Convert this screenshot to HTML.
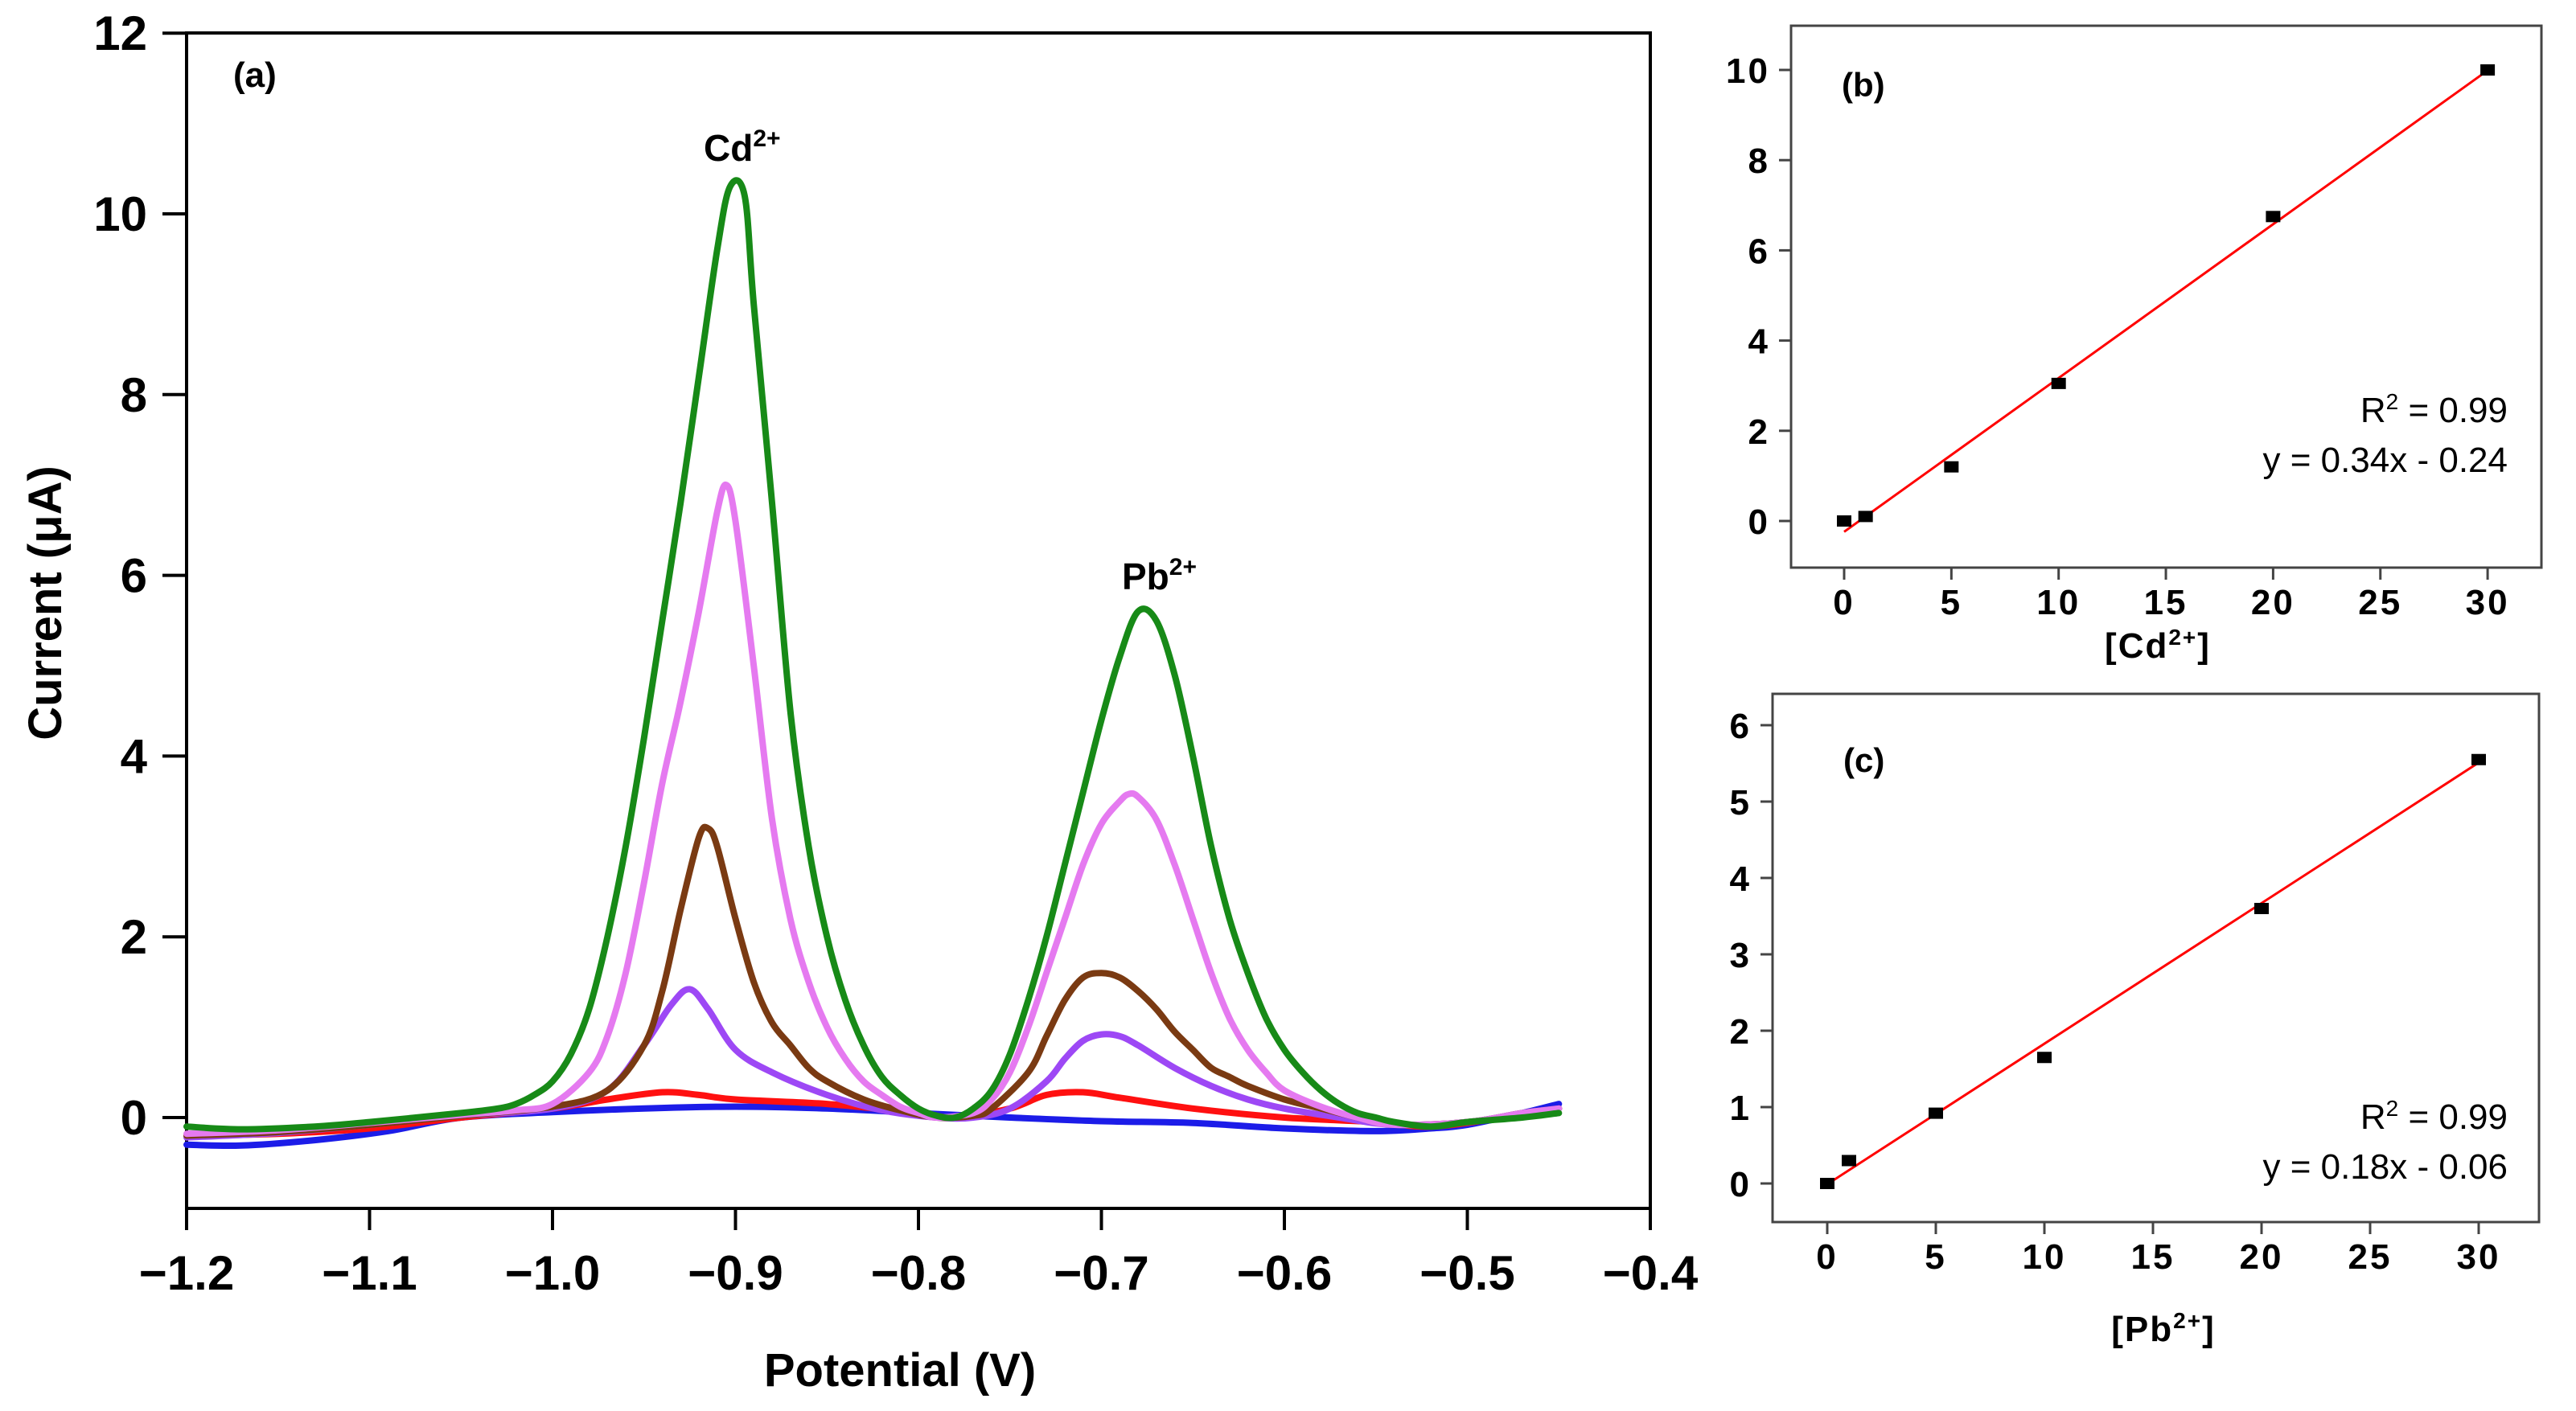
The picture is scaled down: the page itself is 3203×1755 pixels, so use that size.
<!DOCTYPE html>
<html><head><meta charset="utf-8"><style>
html,body{margin:0;padding:0;background:#fff;}
svg{display:block;font-family:"Liberation Sans",Arial,sans-serif;}
</style></head><body>
<svg id="fig" width="3203" height="1755" viewBox="0 0 3203 1755" xmlns="http://www.w3.org/2000/svg">
<rect width="3203" height="1755" fill="#fff"/>
<g id="pa"></g>
<g id="pb"></g>
<g id="pc"></g>
</svg>
<script>
// ---- Panel (a) data ----
const aXTicks = [-1.2,-1.1,-1.0,-0.9,-0.8,-0.7,-0.6,-0.5,-0.4];
const aXTickLabels = ["\u22121.2","\u22121.1","\u22121.0","\u22120.9","\u22120.8","\u22120.7","\u22120.6","\u22120.5","\u22120.4"];
const aYTicks = [0,2,4,6,8,10,12];
const blueX = [-1.2,-1.17,-1.13,-1.09,-1.05,-1.0,-0.95,-0.9,-0.85,-0.8,-0.75,-0.7,-0.65,-0.6,-0.55,-0.52,-0.5,-0.47,-0.45];
const blueY = [-0.3,-0.31,-0.25,-0.15,0.0,0.06,0.1,0.12,0.1,0.05,0.0,-0.04,-0.06,-0.12,-0.15,-0.12,-0.08,0.05,0.15];
const redX = [-1.2,-1.15,-1.1,-1.05,-1.0,-0.97,-0.94,-0.92,-0.9,-0.85,-0.8,-0.78,-0.75,-0.73,-0.71,-0.69,-0.65,-0.6,-0.55,-0.52,-0.48,-0.45];
const redY = [-0.2,-0.18,-0.12,0.0,0.1,0.2,0.28,0.25,0.2,0.15,0.05,0.0,0.1,0.25,0.28,0.22,0.1,0.0,-0.05,-0.1,0.0,0.1];
const purpleX = [-1.2,-1.15,-1.1,-1.05,-1.0,-0.97,-0.95,-0.935,-0.925,-0.915,-0.9,-0.88,-0.85,-0.82,-0.79,-0.77,-0.75,-0.73,-0.72,-0.71,-0.7,-0.69,-0.68,-0.66,-0.64,-0.62,-0.6,-0.57,-0.54,-0.5,-0.47,-0.45];
const purpleY = [-0.22,-0.17,-0.08,0.02,0.1,0.3,0.8,1.25,1.42,1.2,0.75,0.5,0.25,0.08,0.0,0.0,0.1,0.4,0.65,0.85,0.92,0.9,0.8,0.55,0.35,0.2,0.1,0.0,-0.08,-0.05,0.05,0.1];
const brownX = [-1.2,-1.15,-1.1,-1.05,-1.0,-0.97,-0.95,-0.94,-0.93,-0.92,-0.915,-0.91,-0.9,-0.89,-0.88,-0.87,-0.86,-0.85,-0.83,-0.81,-0.79,-0.77,-0.76,-0.74,-0.73,-0.72,-0.71,-0.7,-0.69,-0.68,-0.67,-0.66,-0.65,-0.64,-0.63,-0.62,-0.6,-0.58,-0.56,-0.54,-0.5,-0.47,-0.45];
const brownY = [-0.2,-0.16,-0.08,0.02,0.12,0.3,0.8,1.4,2.3,3.1,3.2,3.0,2.2,1.5,1.05,0.8,0.55,0.4,0.2,0.08,0.0,0.02,0.1,0.5,0.9,1.3,1.55,1.6,1.55,1.4,1.2,0.95,0.75,0.55,0.45,0.35,0.2,0.1,0.0,-0.08,-0.05,0.05,0.1];
const violetX = [-1.2,-1.15,-1.1,-1.05,-1.02,-1.0,-0.98,-0.97,-0.96,-0.95,-0.94,-0.93,-0.92,-0.91,-0.905,-0.9,-0.89,-0.88,-0.87,-0.86,-0.85,-0.84,-0.83,-0.82,-0.81,-0.8,-0.79,-0.77,-0.76,-0.75,-0.74,-0.73,-0.72,-0.71,-0.7,-0.69,-0.685,-0.68,-0.67,-0.66,-0.65,-0.64,-0.63,-0.62,-0.61,-0.6,-0.58,-0.56,-0.54,-0.5,-0.47,-0.45];
const violetY = [-0.18,-0.14,-0.06,0.03,0.08,0.15,0.5,0.9,1.6,2.6,3.7,4.6,5.6,6.7,7.0,6.6,5.0,3.3,2.2,1.5,1.0,0.65,0.4,0.25,0.12,0.05,0.0,0.05,0.2,0.5,1.0,1.6,2.2,2.8,3.25,3.5,3.58,3.55,3.3,2.8,2.2,1.6,1.1,0.75,0.5,0.3,0.12,0.0,-0.08,-0.05,0.05,0.1];
const greenX = [-1.2,-1.17,-1.13,-1.1,-1.05,-1.03,-1.02,-1.01,-1.0,-0.99,-0.98,-0.97,-0.96,-0.95,-0.94,-0.93,-0.92,-0.91,-0.903,-0.895,-0.89,-0.88,-0.87,-0.86,-0.85,-0.84,-0.83,-0.82,-0.81,-0.8,-0.79,-0.78,-0.77,-0.76,-0.75,-0.74,-0.73,-0.72,-0.71,-0.7,-0.69,-0.68,-0.67,-0.66,-0.65,-0.64,-0.63,-0.62,-0.61,-0.6,-0.59,-0.58,-0.57,-0.56,-0.55,-0.54,-0.52,-0.5,-0.47,-0.45];
const greenY = [-0.1,-0.13,-0.1,-0.05,0.05,0.1,0.15,0.25,0.4,0.7,1.2,2.0,3.0,4.2,5.5,6.8,8.2,9.6,10.3,10.2,9.0,6.8,4.5,3.0,2.0,1.3,0.8,0.45,0.25,0.1,0.02,0.0,0.1,0.3,0.7,1.3,2.0,2.8,3.6,4.4,5.1,5.6,5.5,4.9,4.0,3.0,2.2,1.6,1.1,0.75,0.5,0.3,0.15,0.05,0.0,-0.05,-0.1,-0.05,0.0,0.05];
// ---- Panel (b) data ----
const bConc = [0,1,5,10,20,30];
const bCurrent = [0,0.1,1.2,3.05,6.75,10.0];
const bFit = [0.341,-0.24];
const bXTicks = [0,5,10,15,20,25,30];
const bYTicks = [0,2,4,6,8,10];
// ---- Panel (c) data ----
const cConc = [0,1,5,10,20,30];
const cCurrent = [0,0.3,0.92,1.65,3.6,5.55];
const cFit = [0.184,-0.01];
const cXTicks = [0,5,10,15,20,25,30];
const cYTicks = [0,1,2,3,4,5,6];

const NS="http://www.w3.org/2000/svg";
function mk(parent,tag,attrs,text){const e=document.createElementNS(NS,tag);for(const k in attrs)e.setAttribute(k,attrs[k]);if(text!==undefined)e.textContent=text;parent.appendChild(e);return e;}
function smooth(pts){let d="M"+pts[0][0]+","+pts[0][1];for(let i=0;i<pts.length-1;i++){const p0=pts[i-1]||pts[i],p1=pts[i],p2=pts[i+1],p3=pts[i+2]||p2;const c1=[p1[0]+(p2[0]-p0[0])/6,p1[1]+(p2[1]-p0[1])/6],c2=[p2[0]-(p3[0]-p1[0])/6,p2[1]-(p3[1]-p1[1])/6];d+="C"+c1[0].toFixed(1)+","+c1[1].toFixed(1)+" "+c2[0].toFixed(1)+","+c2[1].toFixed(1)+" "+p2[0].toFixed(1)+","+p2[1].toFixed(1);}return d;}

// Panel a
(function(){
const g=document.getElementById('pa');
const L=232,R=2052,T=41,B=1503;
const sx=v=>L+(v+1.2)/0.8*(R-L);
const sy=v=>1390-v*112.4;
let e;
e=mk(g,'rect',{x:L,y:T,width:R-L,height:B-T,fill:'none',stroke:'#000','stroke-width':4});


aXTicks.forEach((v,i)=>{
 e=mk(g,'line',{x1:sx(v),x2:sx(v),y1:B,y2:B+27,stroke:'#000','stroke-width':4});
 
 
 e=mk(g,'text',{x:sx(v),y:1604,'text-anchor':'middle','font-size':60,'font-weight':'bold'},aXTickLabels[i]);
 
 
});
aYTicks.forEach(v=>{
 e=mk(g,'line',{x1:L-30,x2:L,y1:sy(v),y2:sy(v),stroke:'#000','stroke-width':4});
 
 
 e=mk(g,'text',{x:183,y:sy(v)+21,'text-anchor':'end','font-size':60,'font-weight':'bold'},String(v));
 
 
});
const series=[[blueX,blueY,'#1c1ce8','blue'],[redX,redY,'#ff1010','red'],[purpleX,purpleY,'#9d48f5','purple'],[brownX,brownY,'#7a3a12','brown'],[violetX,violetY,'#e57af0','violet'],[greenX,greenY,'#178a17','green']];
series.forEach(s=>{
 const pts=s[0].map((x,i)=>[sx(x),sy(s[1][i])]);
 e=mk(g,'path',{d:smooth(pts),fill:'none',stroke:s[2],'stroke-width':8,'stroke-linejoin':'round','stroke-linecap':'round'});
 
 
});
e=mk(g,'text',{x:290,y:108,'font-size':44,'font-weight':'bold'},'(a)');


e=mk(g,'text',{x:875,y:200,'font-size':46,'font-weight':'bold'});


e.innerHTML='Cd<tspan dy="-18" font-size="30">2+</tspan>';
e=mk(g,'text',{x:1395,y:733,'font-size':46,'font-weight':'bold'});


e.innerHTML='Pb<tspan dy="-18" font-size="30">2+</tspan>';
e=mk(g,'text',{x:1119,y:1724,'text-anchor':'middle','font-size':58,'font-weight':'bold'},'Potential (V)');


e=mk(g,'text',{x:0,y:0,'text-anchor':'middle','font-size':58,'font-weight':'bold',transform:'translate(76,750) rotate(-90)'},'Current (\u03bcA)');


})();

function calib(id,cfg,conc,cur,fit,xt,yt){
 const g=document.getElementById(id);
 const sx=v=>cfg.x0+v*cfg.kx, sy=v=>cfg.y0-v*cfg.ky;
 let e;
 e=mk(g,'rect',{x:cfg.L,y:cfg.T,width:cfg.R-cfg.L,height:cfg.B-cfg.T,fill:'none',stroke:'#444','stroke-width':3});
 
 
 xt.forEach(v=>{
  e=mk(g,'line',{x1:sx(v),x2:sx(v),y1:cfg.B,y2:cfg.B+15,stroke:'#444','stroke-width':3});
  
  
  e=mk(g,'text',{x:sx(v),y:cfg.B+58,'text-anchor':'middle','font-size':44,'font-weight':'bold','letter-spacing':3},String(v));
  
  
 });
 yt.forEach(v=>{
  e=mk(g,'line',{x1:cfg.L-15,x2:cfg.L,y1:sy(v),y2:sy(v),stroke:'#444','stroke-width':3});
  
  
  e=mk(g,'text',{x:cfg.L-26,y:sy(v)+16,'text-anchor':'end','font-size':44,'font-weight':'bold','letter-spacing':3},String(v));
  
  
 });
 const x1=conc[0],x2=conc[conc.length-1];
 e=mk(g,'line',{x1:sx(x1),y1:sy(fit[0]*x1+fit[1]),x2:sx(x2),y2:sy(fit[0]*x2+fit[1]),stroke:'#ff0000','stroke-width':3});
 
 
 conc.forEach((c,i)=>{
  e=mk(g,'rect',{x:sx(c)-9,y:sy(cur[i])-7,width:18,height:14,fill:'#000'});
  
  
 });
 e=mk(g,'text',{x:cfg.lblX,y:cfg.lblY,'font-size':42,'font-weight':'bold'},cfg.label);
 
 
 e=mk(g,'text',{x:3118,y:cfg.r2Y,'text-anchor':'end','font-size':44});
 
 
 e.innerHTML='R<tspan dy="-16" font-size="28">2</tspan><tspan dy="16"> = 0.99</tspan>';
 e=mk(g,'text',{x:3118,y:cfg.r2Y+62,'text-anchor':'end','font-size':44},cfg.eq);
 
 
 e=mk(g,'text',{x:cfg.titX,y:cfg.titY,'text-anchor':'middle','font-size':44,'font-weight':'bold','letter-spacing':2});
 
 
 e.innerHTML=cfg.title;
}
calib('pb',{n:'b',L:2227,R:3160,T:32,B:706,x0:2293,kx:26.67,y0:648,ky:56.1,label:'(b)',lblX:2290,lblY:120,r2Y:525,eq:'y = 0.34x - 0.24',titX:2683,titY:818,title:'[Cd<tspan dy="-16" font-size="28">2+</tspan><tspan dy="16">]</tspan>'},bConc,bCurrent,bFit,bXTicks,bYTicks);
calib('pc',{n:'c',L:2204,R:3157,T:863,B:1520,x0:2272,kx:27.0,y0:1472,ky:95.0,label:'(c)',lblX:2292,lblY:960,r2Y:1404,eq:'y = 0.18x - 0.06',titX:2690,titY:1668,title:'[Pb<tspan dy="-16" font-size="28">2+</tspan><tspan dy="16">]</tspan>'},cConc,cCurrent,cFit,cXTicks,cYTicks);
</script>
</body></html>
